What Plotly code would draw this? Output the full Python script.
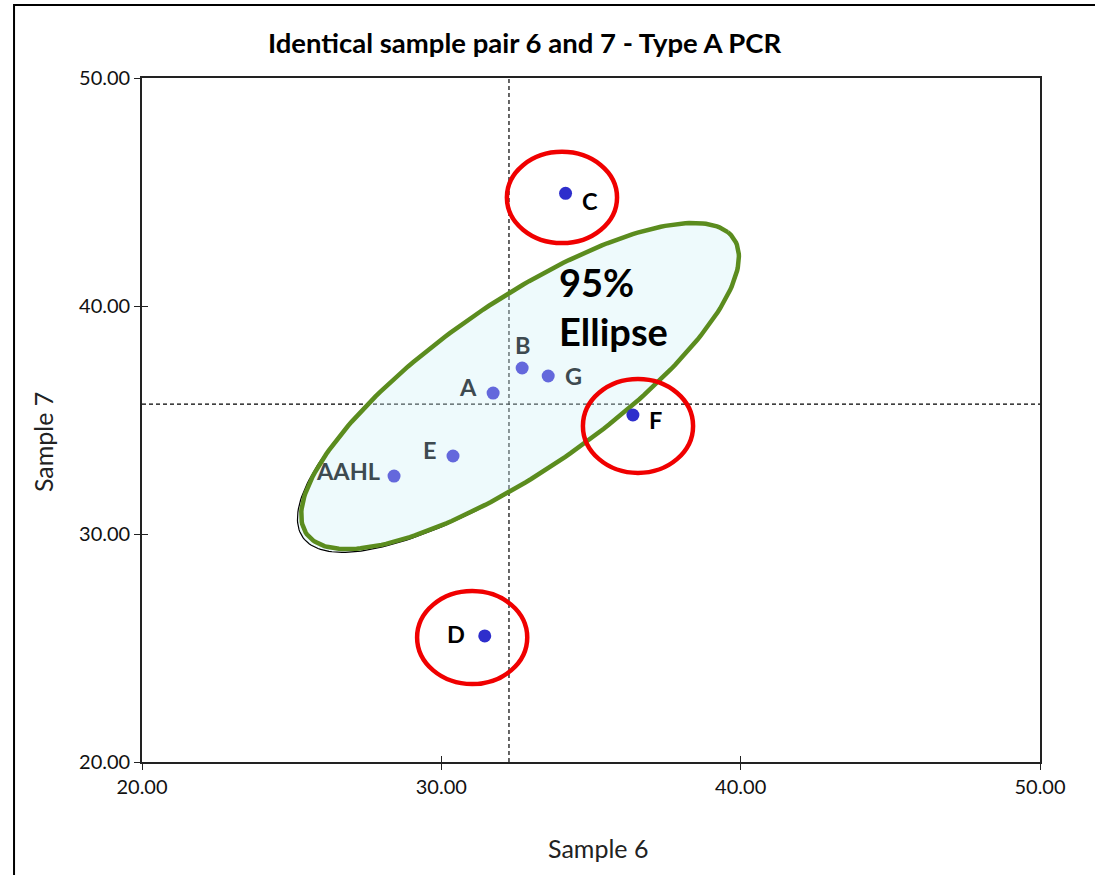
import numpy as np
import plotly.graph_objects as go

# ---------------- data ----------------
labs = ["AAHL", "A", "B", "C", "D", "E", "F", "G"]
sample6 = [28.42, 31.73, 32.70, 34.15, 31.45, 30.39, 36.40, 33.57]
sample7 = [32.54, 36.18, 37.28, 44.94, 25.53, 33.42, 35.22, 36.93]
outliers = ["C", "D", "F"]

ref_x = 32.26   # vertical dashed reference
ref_y = 35.70   # horizontal dashed reference

ellipse_center = [32.63, 36.49]
ellipse_semi_axes = [9.68, 3.30]
ellipse_angle_deg = 44.2

circle_labs = ["C", "F", "D"]
circle_cx = [34.03, 36.57, 31.03]
circle_cy = [44.76, 34.74, 25.46]
circle_rx = [1.84, 1.84, 1.84]
circle_ry = [2.00, 2.06, 2.04]

x_ticks = [20, 30, 40, 50]
y_ticks = [20, 30, 40, 50]

# ---------------- style ----------------
FONT = "Lato"
# label placement (anchor, xshift px, yshift px)
label_style = {
    "AAHL": ("right", -12, 5),
    "A": ("right", -14, 6),
    "B": ("center", 0, 23),
    "C": ("left", 14, -8),
    "D": ("right", -18, 2),
    "E": ("right", -14, 6),
    "F": ("left", 14, -5),
    "G": ("left", 15, 0),
}


def ellipse_xy(c, ax, ang, n=240, scale=(1.0, 1.0), shift=(0.0, 0.0)):
    t = np.linspace(0, 2 * np.pi, n)
    th = np.deg2rad(ang)
    a, b = ax[0] * scale[0], ax[1] * scale[1]
    x = c[0] + shift[0] + a * np.cos(t) * np.cos(th) - b * np.sin(t) * np.sin(th)
    y = c[1] + shift[1] + a * np.cos(t) * np.sin(th) + b * np.sin(t) * np.cos(th)
    return x, y


fig = go.Figure()

# black outline (slightly offset hand-drawn look) + translucent fill
bx, by = ellipse_xy(ellipse_center, ellipse_semi_axes, ellipse_angle_deg,
                    scale=(1.01, 1.0), shift=(-0.06, -0.08))
fig.add_trace(go.Scatter(x=bx, y=by, mode="lines", fill="toself",
                         fillcolor="rgba(206,241,246,0.35)",
                         line=dict(color="black", width=1.2),
                         hoverinfo="skip", showlegend=False))
# green ellipse
gx, gy = ellipse_xy(ellipse_center, ellipse_semi_axes, ellipse_angle_deg)
fig.add_trace(go.Scatter(x=gx, y=gy, mode="lines",
                         line=dict(color="#5B8C1E", width=4.5),
                         hoverinfo="skip", showlegend=False))

# points
pt_colors = ["#2E2ECC" if l in outliers else "#6468DC" for l in labs]
fig.add_trace(go.Scatter(x=sample6, y=sample7, mode="markers",
                         marker=dict(size=13, color=pt_colors),
                         showlegend=False))

# point labels
for l, xv, yv in zip(labs, sample6, sample7):
    anc, dx, dy = label_style[l]
    fig.add_annotation(x=xv, y=yv, xref="x", yref="y", text=l, showarrow=False,
                       xanchor=anc, yanchor="middle", xshift=dx, yshift=dy,
                       font=dict(family=FONT, size=23.5, weight="bold",
                                 color="#000000" if l in outliers else "#3E4A50"))

# dummy trace for crossing-tick overlay axes
fig.add_trace(go.Scatter(x=[20], y=[20], xaxis="x2", yaxis="y2", mode="markers",
                         marker=dict(opacity=0), hoverinfo="skip", showlegend=False))

# red circles
for cx, cy, rx, ry in zip(circle_cx, circle_cy, circle_rx, circle_ry):
    fig.add_shape(type="circle", xref="x", yref="y",
                  x0=cx - rx, x1=cx + rx, y0=cy - ry, y1=cy + ry,
                  line=dict(color="#F00000", width=4.5), layer="above")

# dashed reference lines
fig.add_shape(type="line", xref="x", yref="y", x0=ref_x, x1=ref_x, y0=20, y1=50,
              line=dict(color="black", width=1.2, dash="4px,3px"), layer="below")
fig.add_shape(type="line", xref="x", yref="y", x0=20, x1=50, y0=ref_y, y1=ref_y,
              line=dict(color="black", width=1.2, dash="4px,3px"), layer="below")

# outer chart border
fig.add_shape(type="rect", xref="paper", yref="paper",
              x0=-0.1425, x1=1.2, y0=-0.3, y1=1.1067,
              line=dict(color="black", width=2), layer="above")

# 95% Ellipse label
fig.add_annotation(x=33.85, y=39.96, xref="x", yref="y", text="95%<br>Ellipse",
                   showarrow=False, xanchor="left", yanchor="middle", align="left",
                   font=dict(family=FONT, size=38, color="black", weight="bold"))

# title
fig.add_annotation(x=0.4265, y=1.0512, xref="paper", yref="paper",
                   text="Identical sample pair 6 and 7 - Type A PCR", showarrow=False,
                   xanchor="center", yanchor="middle",
                   font=dict(family=FONT, size=27.5, color="black", weight="bold"))

# axis titles
fig.add_annotation(x=0.5078, y=-0.1257, xref="paper", yref="paper", text="Sample 6",
                   showarrow=False, xanchor="center", yanchor="middle",
                   font=dict(family=FONT, size=25, color="#222"))
fig.add_annotation(x=-0.1102, y=0.4678, xref="paper", yref="paper", text="Sample 7",
                   showarrow=False, xanchor="center", yanchor="middle", textangle=-90,
                   font=dict(family=FONT, size=25, color="#222"))

axis_common = dict(range=[20, 50], showgrid=False, zeroline=False,
                   showline=True, linecolor="#222", linewidth=1.6, mirror=True,
                   ticks="outside", ticklen=6, tickwidth=1.2, tickcolor="#222",
                   tickformat=".2f",
                   tickfont=dict(family=FONT, size=20, color="#111"))

fig.update_layout(
    width=1095, height=875,
    margin=dict(l=142, r=55, t=78, b=113),
    paper_bgcolor="white", plot_bgcolor="white",
    showlegend=False,
    xaxis=dict(**axis_common, tickvals=x_ticks),
    yaxis=dict(**axis_common, tickvals=y_ticks),
    xaxis2=dict(range=[20, 50], overlaying="x", anchor="y2", side="bottom",
                showgrid=False, zeroline=False, showline=False,
                tickvals=x_ticks, ticks="inside", ticklen=6, tickwidth=1.2,
                tickcolor="#222", showticklabels=False),
    yaxis2=dict(range=[20, 50], overlaying="y", anchor="x2", side="left",
                showgrid=False, zeroline=False, showline=False,
                tickvals=y_ticks, ticks="inside", ticklen=6, tickwidth=1.2,
                tickcolor="#222", showticklabels=False),
)

fig.write_html("out.html", config={"displayModeBar": False},
               post_script="document.body.style.margin='0';document.body.style.overflow='hidden';")
